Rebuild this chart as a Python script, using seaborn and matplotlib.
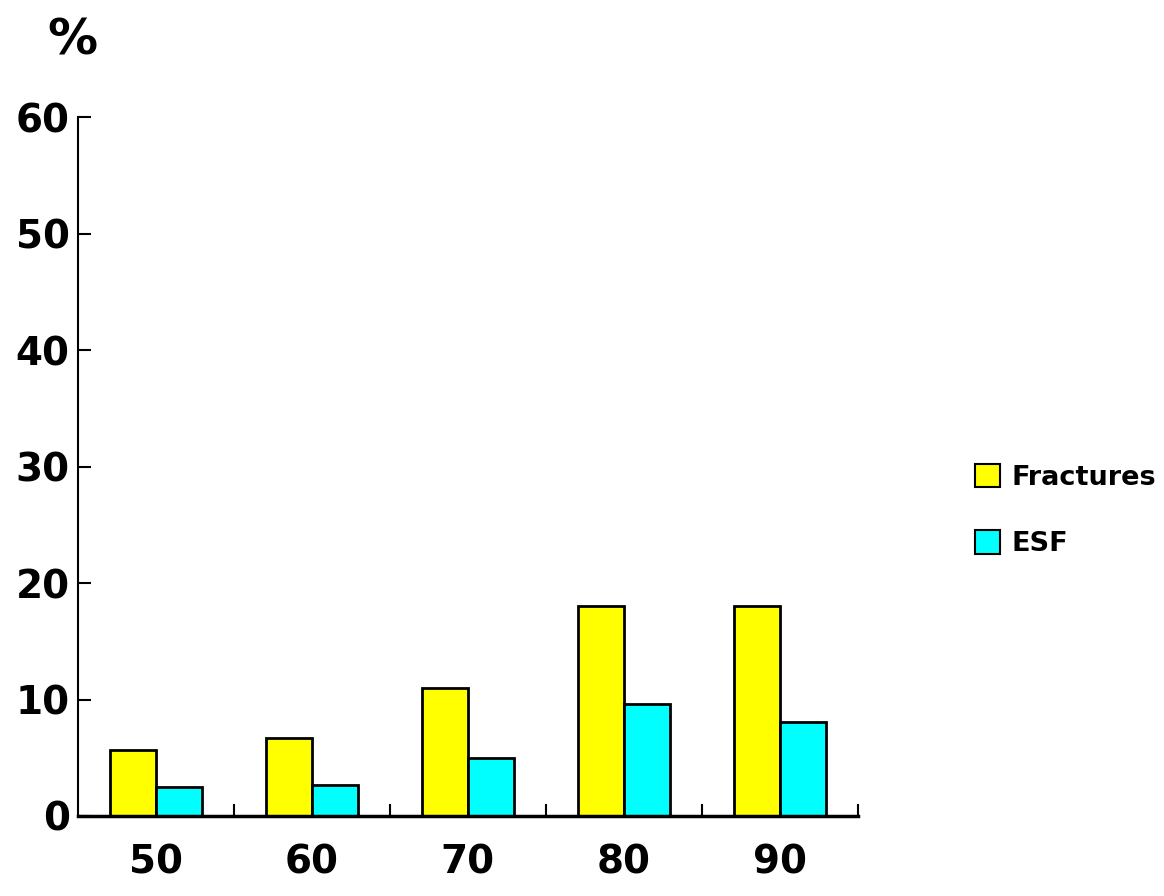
import pandas as pd
import matplotlib
matplotlib.use("Agg")
import matplotlib.pyplot as plt
import seaborn as sns
from matplotlib.patches import Patch

# values
ages = ["50", "60", "70", "80", "90"]
fractures = [5.7, 6.7, 11.0, 18.0, 18.0]
esf = [2.5, 2.7, 5.0, 9.6, 8.1]
series_names = ["Fractures", "ESF"]
colors = ["#FFFF00", "#00FFFF"]

df = pd.DataFrame({
    "age": ages * 2,
    "value": fractures + esf,
    "series": [series_names[0]] * len(ages) + [series_names[1]] * len(ages),
})

sns.set_style("white")
plt.rcParams['font.family'] = ['DejaVu Sans']
plt.rcParams['font.weight'] = 'bold'
plt.rcParams['text.color'] = 'black'
plt.rcParams['xtick.color'] = 'black'
plt.rcParams['ytick.color'] = 'black'

fig = plt.figure(figsize=(11.64, 8.96), dpi=100)
ax = fig.add_axes([0.067, 0.0893, 0.67, 0.780])

sns.barplot(data=df, x="age", y="value", hue="series", order=ages,
            hue_order=series_names, palette=colors, width=0.585,
            edgecolor="black", linewidth=2, saturation=1, ax=ax, legend=False)

ax.set_xlim(-0.5, len(ages) - 0.5)
ax.set_ylim(0, 60)
ax.set_yticks(range(0, 61, 10))
ax.set_xlabel("")
ax.set_ylabel("")

for s in ["top", "right"]:
    ax.spines[s].set_visible(False)
ax.spines["left"].set_color("black")
ax.spines["left"].set_linewidth(1.5)
ax.spines["bottom"].set_color("black")
ax.spines["bottom"].set_linewidth(2.5)

# tick marks sit between the groups
ax.set_xticks([i + 0.5 for i in range(len(ages))], minor=True)
ax.tick_params(axis="x", which="major", bottom=True, length=0, pad=20,
               labelsize=28, labelcolor="black")
ax.tick_params(axis="x", which="minor", bottom=True, direction="in",
               length=9, width=1.5, color="black")
ax.tick_params(axis="y", which="major", left=True, direction="in", length=9,
               width=1.5, color="black", pad=6, labelsize=28, labelcolor="black")
for lab in ax.get_xticklabels() + ax.get_yticklabels():
    lab.set_fontweight("bold")

fig.text(0.062, 0.955, "%", fontsize=36, fontweight="bold", ha="center",
         va="center", color="black")

handles = [Patch(facecolor=c, edgecolor="black", linewidth=1.5) for c in colors]
leg = fig.legend(handles, series_names, loc="center left", bbox_to_anchor=(0.828, 0.43),
                 frameon=False, handlelength=0.95, handleheight=0.95,
                 handletextpad=0.4, labelspacing=1.45, borderaxespad=0,
                 prop={"weight": "bold", "size": 19.5})
for t in leg.get_texts():
    t.set_color("black")

fig.savefig("out.png", dpi=100)
